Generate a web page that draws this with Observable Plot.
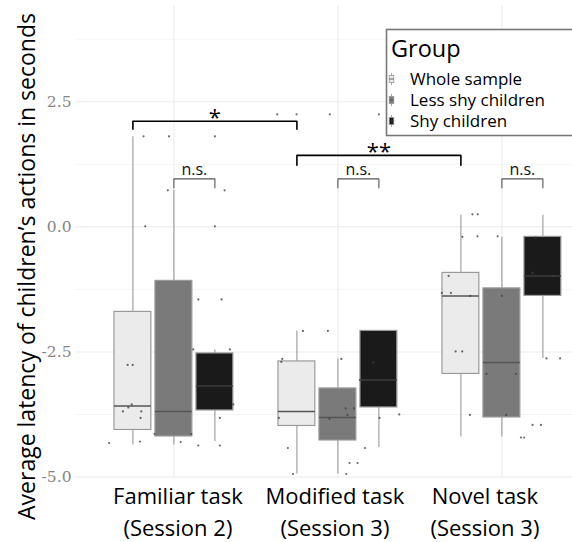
<!DOCTYPE html>
<html><head><meta charset="utf-8">
<script src="https://cdn.jsdelivr.net/npm/d3@7"></script>
<script src="https://cdn.jsdelivr.net/npm/@observablehq/plot@0.6"></script>
<style>
html,body{margin:0;padding:0;background:#fff;}
#wrap{position:relative;width:572px;height:542px;overflow:hidden;}
#wrap svg{display:block;}
#legend{position:absolute;left:0;top:0;pointer-events:none;}
</style></head><body><div id="wrap"></div>
<script>
// ---------- data ----------
const categories = ["Familiar task\n(Session 2)", "Modified task\n(Session 3)", "Novel task\n(Session 3)"];
const groups = ["Whole sample", "Less shy children", "Shy children"];
const yTicks = [-5, -2.5, 0, 2.5];
const yMinorTicks = [-3.75, -1.25, 1.25, 3.75];
const yTitle = "Average latency of children\u2019s actions in seconds";

// box statistics, [group][category]
const whiskerLow  = [[-4.36, -4.94, -4.20], [-4.36, -4.94, -4.20], [-4.29, -4.41, -2.63]];
const quartile1   = [[-4.06, -3.98, -2.94], [-4.19, -4.27, -3.81], [-3.67, -3.61, -1.38]];
const medians     = [[-3.58, -3.69, -1.38], [-3.69, -3.81, -2.71], [-3.18, -3.06, -0.98]];
const quartile3   = [[-1.70, -2.69, -0.92], [-1.08, -3.23, -1.23], [-2.53, -2.08, -0.20]];
const whiskerHigh = [[ 1.80, -2.08,  0.23], [ 0.73, -2.64, -0.21], [-2.46, -2.08,  0.23]];

// jittered individual observations (position on the category axis, value)
const jitterX = [
  0.605, 0.793, 0.815, 0.970, 1.250, 0.963, 1.309, 0.825, 1.250, 1.149, 1.291, 1.118, 1.341, 0.718,
  0.749, 0.743, 0.722, 0.689, 0.801, 0.797, 1.362, 0.882, 1.106, 1.041, 1.149, 1.280, 1.280,
  1.630, 1.748, 1.951, 2.250, 1.787, 1.939, 1.661, 1.655, 2.021, 2.216, 2.134, 1.640, 1.949,
  2.047, 2.098, 2.058, 2.374, 2.254, 1.695, 2.165, 2.071, 2.120, 1.726, 2.051,
  2.820, 2.853, 2.759, 2.851, 2.974, 3.207, 2.675, 3.187, 3.315, 2.634, 2.689, 2.807, 3.000,
  2.718, 2.758, 2.906, 3.085, 3.272, 3.355, 2.805, 3.026, 3.187, 3.238, 3.116, 3.136
];
const jitterY = [
  -4.32, -4.29, 1.81, 1.81, 1.81, 0.73, 0.73, 0.01, 0.01, -1.45, -1.45, -2.45, -2.45, -2.76,
  -2.76, -3.55, -3.61, -3.69, -3.69, -3.82, -3.55, -4.14, -4.14, -4.30, -4.37, -4.37, -3.82,
  2.25, 2.25, 2.25, 2.25, -2.08, -2.08, -2.64, -2.70, -2.64, -2.71, -3.06, -3.82, -3.84,
  -3.63, -3.63, -3.76, -3.75, -3.82, -4.42, -4.42, -4.72, -4.72, -4.94, -4.94,
  0.25, 0.25, -0.20, -0.19, -0.19, -0.21, -0.98, -0.92, -0.98, -1.32, -1.32, -1.38, -1.38,
  -2.49, -2.49, -2.94, -2.94, -2.63, -2.63, -3.76, -3.76, -3.96, -3.96, -4.21, -4.21
];

// significance brackets: [category, group] endpoints
const sigLabels = ["*", "**", "n.s.", "n.s.", "n.s."];
const sigFrom   = [[0, 0], [1, 0], [0, 1], [1, 1], [2, 1]];
const sigTo     = [[1, 0], [2, 0], [0, 2], [1, 2], [2, 2]];
const sigLevel  = [2.11, 1.43, 0.96, 0.96, 0.96];
const sigBase   = [1.95, 1.23, 0.78, 0.78, 0.78];

// ---------- derived tables ----------
const dodge = g => (g - 1) * 0.25;
const halfBox = 0.1125;
const fills = ["#ebebeb", "#7a7a7a", "#1a1a1a"];
const boxes = [];
groups.forEach((grp, g) => categories.forEach((cat, c) => {
  boxes.push({group: grp, g, x: c + 1 + dodge(g),
    lo: whiskerLow[g][c], q1: quartile1[g][c], med: medians[g][c], q3: quartile3[g][c], hi: whiskerHigh[g][c]});
}));
const pts = jitterX.map((x, i) => ({x, y: jitterY[i]}));
const sig = sigLabels.map((label, i) => {
  const x1 = sigFrom[i][0] + 1 + dodge(sigFrom[i][1]);
  const x2 = sigTo[i][0] + 1 + dodge(sigTo[i][1]);
  return {label, i, x1, x2, mid: (x1 + x2) / 2, level: sigLevel[i], base: sigBase[i], strong: label !== "n.s."};
});
const sigPath = sig.flatMap(s => [
  {i: s.i, strong: s.strong, x: s.x1, y: s.base},
  {i: s.i, strong: s.strong, x: s.x1, y: s.level},
  {i: s.i, strong: s.strong, x: s.x2, y: s.level},
  {i: s.i, strong: s.strong, x: s.x2, y: s.base}
]);
const labelLines = categories.map((c, i) => ({x: i + 1, l1: c.split("\n")[0], l2: c.split("\n")[1]}));

const sans = "'Open Sans', 'DejaVu Sans', sans-serif";

const chart = Plot.plot({
  width: 572, height: 542,
  marginLeft: 75, marginRight: 0, marginTop: 6, marginBottom: 64,
  x: {domain: [0.4, 3.4305], axis: null},
  y: {domain: [-5.03, 4.405], axis: null},
  style: {fontFamily: sans, background: "#fff", overflow: "visible"},
  marks: [
    Plot.ruleY(yMinorTicks, {stroke: "#f2f2f2", strokeWidth: 0.8}),
    Plot.ruleY(yTicks, {stroke: "#ebebeb", strokeWidth: 1.1}),
    Plot.ruleX([1, 2, 3], {stroke: "#ebebeb", strokeWidth: 1.1}),
    Plot.axisY(yTicks, {tickSize: 0, tickPadding: 4, tickFormat: d => d.toFixed(1),
      fontFamily: "'DejaVu Serif', serif", fontSize: 15.5, fill: "#858585", label: null}),
    // whiskers
    Plot.ruleX(boxes, {x: "x", y1: "lo", y2: "q1", stroke: "#9a9a9a", strokeWidth: 1.1}),
    Plot.ruleX(boxes, {x: "x", y1: "q3", y2: "hi", stroke: "#9a9a9a", strokeWidth: 1.1}),
    // boxes
    Plot.rect(boxes, {x1: d => d.x - halfBox, x2: d => d.x + halfBox, y1: "q1", y2: "q3",
      fill: d => fills[d.g], stroke: "#9a9a9a", strokeWidth: 1.2}),
    Plot.ruleY(boxes, {y: "med", x1: d => d.x - halfBox, x2: d => d.x + halfBox,
      stroke: d => d.g === 2 ? "#3c3c3c" : "#555", strokeWidth: 1.5}),
    // points
    Plot.dot(pts, {x: "x", y: "y", r: 1.1, fill: "#444", fillOpacity: 0.8}),
    // significance brackets
    Plot.line(sigPath.filter(d => d.strong), {x: "x", y: "y", z: "i", stroke: "#000", strokeWidth: 1.6, curve: "linear"}),
    Plot.line(sigPath.filter(d => !d.strong), {x: "x", y: "y", z: "i", stroke: "#555", strokeWidth: 1.1, curve: "linear"}),
    Plot.text(sig.filter(d => d.strong), {x: "mid", y: "level", text: "label", lineAnchor: "bottom", dy: 4,
      fontSize: 22, fill: "#000", fontFamily: sans}),
    Plot.text(sig.filter(d => !d.strong), {x: "mid", y: "level", text: "label", lineAnchor: "bottom", dy: -3.5,
      fontSize: 16, fill: "#111", fontFamily: sans}),
    // y title
    Plot.text([yTitle], {text: d => d, frameAnchor: "left", textAnchor: "middle", rotate: -90, lineAnchor: "bottom",
      dx: -41, dy: 24, fontSize: 23, fill: "#000", fontFamily: sans}),
    // x category labels
    Plot.text([labelLines[0]], {x: "x", text: "l1", frameAnchor: "bottom", lineAnchor: "bottom", dx: 4, dy: 25, fontSize: 22, fill: "#000"}),
    Plot.text([labelLines[0]], {x: "x", text: "l2", frameAnchor: "bottom", lineAnchor: "bottom", dx: 4, dy: 57, fontSize: 22, fill: "#000"}),
    Plot.text([labelLines[1]], {x: "x", text: "l1", frameAnchor: "bottom", lineAnchor: "bottom", dx: -3, dy: 25, fontSize: 22, fill: "#000"}),
    Plot.text([labelLines[1]], {x: "x", text: "l2", frameAnchor: "bottom", lineAnchor: "bottom", dx: -3, dy: 57, fontSize: 22, fill: "#000"}),
    Plot.text([labelLines[2]], {x: "x", text: "l1", frameAnchor: "bottom", lineAnchor: "bottom", dx: -17, dy: 25, fontSize: 22, fill: "#000"}),
    Plot.text([labelLines[2]], {x: "x", text: "l2", frameAnchor: "bottom", lineAnchor: "bottom", dx: -17, dy: 57, fontSize: 22, fill: "#000"})
  ]
});
const wrap = document.getElementById("wrap");
wrap.appendChild(chart);

// ---------- legend (inside the panel, top right) ----------
const lg = d3.select(wrap).append("svg").attr("id", "legend")
  .attr("width", 572).attr("height", 542).style("font-family", sans);
lg.append("rect").attr("x", 386.5).attr("y", 29.5).attr("width", 300).attr("height", 106)
  .attr("fill", "#fff").attr("stroke", "#777").attr("stroke-width", 1.6);
lg.append("text").attr("x", 391).attr("y", 57).attr("font-size", 23.5).attr("fill", "#000").text("Group");
groups.forEach((name, g) => {
  const cy = 79 + g * 21;
  const k = lg.append("g");
  k.append("line").attr("x1", 391.5).attr("x2", 391.5).attr("y1", cy - 6).attr("y2", cy + 6)
    .attr("stroke", "#9a9a9a").attr("stroke-width", 0.9);
  k.append("rect").attr("x", 389.2).attr("y", cy - 3.6).attr("width", 4.6).attr("height", 7.2)
    .attr("fill", fills[g]).attr("stroke", "#9a9a9a").attr("stroke-width", 0.8);
  k.append("line").attr("x1", 389.2).attr("x2", 393.8).attr("y1", cy).attr("y2", cy)
    .attr("stroke", g === 2 ? "#3c3c3c" : "#555").attr("stroke-width", 0.9);
  lg.append("text").attr("x", 410).attr("y", cy + 5.5).attr("font-size", 17).attr("fill", "#000").text(name);
});
</script></body></html>
